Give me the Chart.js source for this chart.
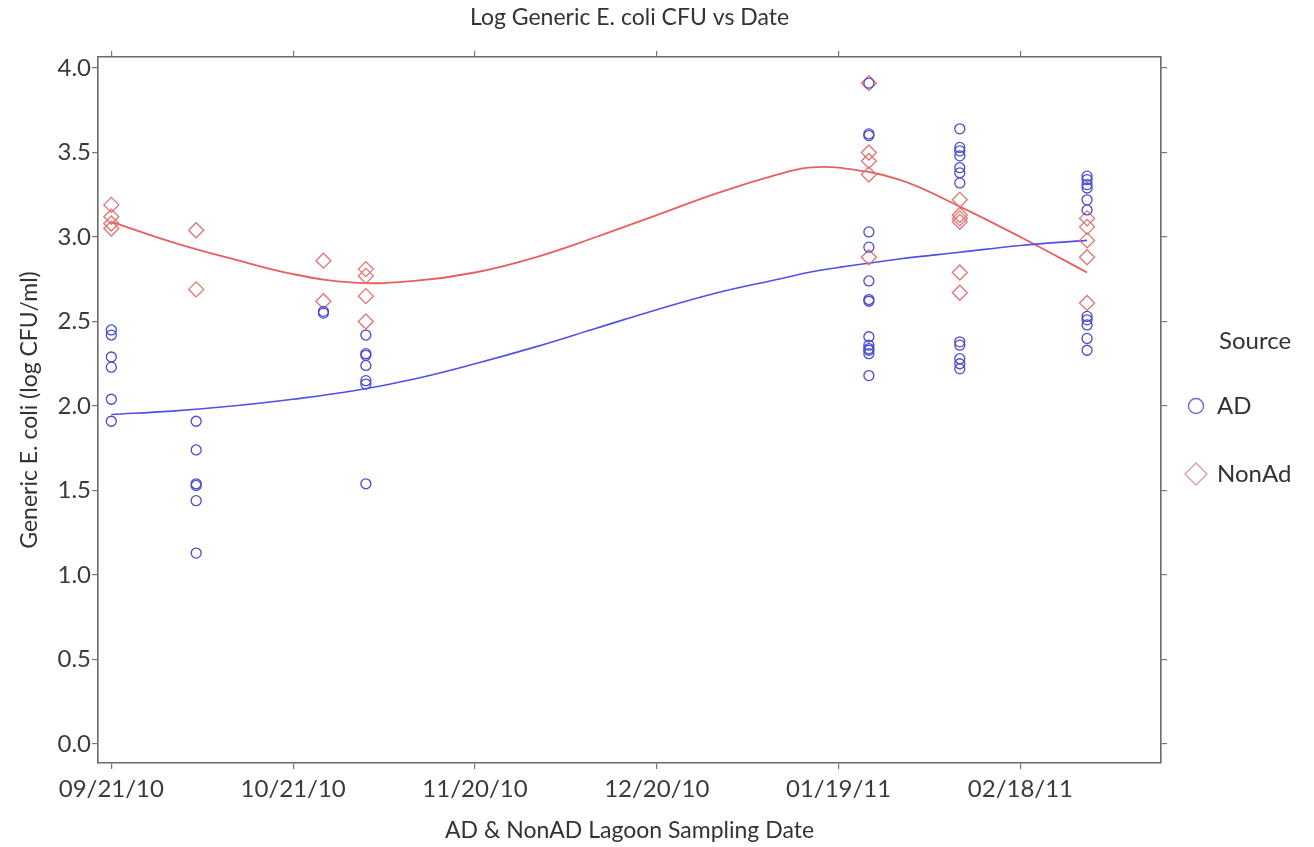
<!DOCTYPE html>
<html>
<head>
<meta charset="utf-8">
<script src="https://cdn.jsdelivr.net/npm/chart.js@4/dist/chart.umd.min.js"></script>
<style>
  body { margin: 0; background: #fff; }
  #wrap { width: 1314px; height: 847px; }
</style>
</head>
<body>
<div id="wrap"><canvas id="grafik" width="1314" height="847"></canvas></div>
<script>
// hari sampling dihitung dari 09/21/10
const hariSampling = [0, 14, 35, 42, 125, 140, 161];
const tanggalSampling = ['09/21/10', '10/05/10', '10/26/10', '11/02/10', '01/24/11', '02/08/11', '03/01/11'];

// nilai log CFU per tanggal sampling
const nilaiAD = [
    [2.45, 2.42, 2.29, 2.23, 2.04, 1.91],
    [1.91, 1.74, 1.54, 1.53, 1.44, 1.13],
    [2.56, 2.55],
    [2.42, 2.31, 2.30, 2.24, 2.15, 2.13, 1.54],
    [3.91, 3.61, 3.60, 3.03, 2.94, 2.74, 2.63, 2.62, 2.41, 2.36, 2.34, 2.33, 2.31, 2.18],
    [3.64, 3.53, 3.51, 3.48, 3.41, 3.38, 3.32, 2.38, 2.36, 2.28, 2.25, 2.22],
    [3.36, 3.34, 3.31, 3.29, 3.22, 3.16, 2.53, 2.51, 2.48, 2.40, 2.33]
];
const nilaiNonAd = [
    [3.19, 3.12, 3.08, 3.05],
    [3.04, 2.69],
    [2.86, 2.62],
    [2.81, 2.77, 2.65, 2.50],
    [3.91, 3.50, 3.45, 3.37, 2.88],
    [3.22, 3.13, 3.11, 3.09, 2.79, 2.67],
    [3.11, 3.06, 2.98, 2.88, 2.61]
];

// garis loess
const hariKurva = [0, 10, 20, 30, 40, 50, 60, 70, 80, 90, 100, 110, 115, 120, 130, 140, 150, 161];
const kurvaAD = [1.95, 1.97, 2.00, 2.04, 2.09, 2.16, 2.25, 2.35, 2.46, 2.57, 2.67, 2.75, 2.79, 2.82, 2.87, 2.91, 2.95, 2.98];
const kurvaNonAd = [3.09, 2.97, 2.87, 2.78, 2.73, 2.74, 2.79, 2.88, 3.00, 3.13, 3.26, 3.37, 3.41, 3.41, 3.34, 3.18, 3.00, 2.79];

// label sumbu
const hariTickX = [0, 30, 60, 90, 120, 150];
const labelTickX = ['09/21/10', '10/21/10', '11/20/10', '12/20/10', '01/19/11', '02/18/11'];
const nilaiTickY = [0, 0.5, 1, 1.5, 2, 2.5, 3, 3.5, 4];

const FONT = 'Lato, "Open Sans", sans-serif';
const BIRU = 'rgb(75, 75, 205)';
const MERAH = 'rgb(226, 115, 115)';

function titikSebar(nilai) {
    const hasil = [];
    nilai.forEach((kolom, i) => {
        kolom.forEach(v => hasil.push({ x: hariSampling[i], y: v }));
    });
    return hasil;
}

function kurva(nilai) {
    return hariKurva.map((h, i) => ({ x: h, y: nilai[i] }));
}

const gridSumbu = {
    drawOnChartArea: false,
    drawTicks: true,
    tickLength: 6,
    color: '#777',
    lineWidth: 1.2
};
const borderSumbu = { display: true, color: '#6b6b6b', width: 1.6 };

// legenda digambar manual di sisi kanan
const legendaSumber = {
    id: 'legendaSumber',
    afterDraw(chart) {
        const ctx = chart.ctx;
        ctx.save();
        ctx.font = '24px ' + FONT;
        ctx.fillStyle = '#333';
        ctx.textBaseline = 'middle';
        ctx.textAlign = 'left';
        ctx.fillText('Source', 1219, 341);

        ctx.lineWidth = 1.4;
        ctx.strokeStyle = 'rgb(110, 110, 200)';
        ctx.beginPath();
        ctx.arc(1196, 406, 7.5, 0, Math.PI * 2);
        ctx.stroke();
        ctx.fillText('AD', 1217, 406);

        ctx.strokeStyle = 'rgb(215, 160, 175)';
        ctx.beginPath();
        ctx.moveTo(1196, 463);
        ctx.lineTo(1207, 474);
        ctx.lineTo(1196, 485);
        ctx.lineTo(1185, 474);
        ctx.closePath();
        ctx.stroke();
        ctx.fillText('NonAd', 1217, 474);
        ctx.restore();
    }
};

new Chart(document.getElementById('grafik'), {
    type: 'scatter',
    data: {
        datasets: [
            {
                label: 'AD',
                data: titikSebar(nilaiAD),
                pointStyle: 'circle',
                pointRadius: 5,
                borderColor: BIRU,
                backgroundColor: 'rgba(0,0,0,0)',
                borderWidth: 1.3
            },
            {
                label: 'NonAd',
                data: titikSebar(nilaiNonAd),
                pointStyle: 'rectRot',
                pointRadius: 7.5,
                borderColor: MERAH,
                backgroundColor: 'rgba(0,0,0,0)',
                borderWidth: 1.3
            },
            {
                type: 'line',
                label: 'AD loess',
                data: kurva(kurvaAD),
                borderColor: 'rgb(80, 80, 230)',
                borderWidth: 1.6,
                pointRadius: 0,
                tension: 0.4,
                fill: false
            },
            {
                type: 'line',
                label: 'NonAd loess',
                data: kurva(kurvaNonAd),
                borderColor: 'rgb(232, 95, 95)',
                borderWidth: 1.8,
                pointRadius: 0,
                tension: 0.4,
                fill: false
            }
        ]
    },
    options: {
        responsive: false,
        animation: false,
        layout: { padding: 0 },
        plugins: {
            legend: { display: false },
            tooltip: { enabled: false }
        },
        scales: {
            x: {
                type: 'linear',
                position: 'bottom',
                min: -2.2,
                max: 173.2,
                afterBuildTicks: s => { s.ticks = hariTickX.map(v => ({ value: v })); },
                afterFit: s => { s.height = 84; },
                grid: gridSumbu,
                border: borderSumbu,
                ticks: {
                    padding: 6,
                    color: '#3a3a3a',
                    font: { family: FONT, size: 24 },
                    maxRotation: 0,
                    callback: v => labelTickX[hariTickX.indexOf(v)] ?? ''
                },
                title: {
                    display: true,
                    text: 'AD & NonAD Lagoon Sampling Date',
                    color: '#333',
                    font: { family: FONT, size: 23 },
                    padding: { top: 0, bottom: 3 }
                }
            },
            x2: {
                type: 'linear',
                axis: 'x',
                position: 'top',
                min: -2.2,
                max: 173.2,
                afterBuildTicks: s => { s.ticks = hariTickX.map(v => ({ value: v })); },
                afterFit: s => { s.height = 57; },
                grid: gridSumbu,
                border: borderSumbu,
                ticks: { display: false },
                title: {
                    display: true,
                    text: 'Log Generic E. coli CFU vs Date',
                    color: '#333',
                    font: { family: FONT, size: 23 },
                    padding: { top: 4, bottom: 0 }
                }
            },
            y: {
                type: 'linear',
                position: 'left',
                min: -0.112,
                max: 4.065,
                afterBuildTicks: s => { s.ticks = nilaiTickY.map(v => ({ value: v })); },
                afterFit: s => { s.width = 98; },
                grid: gridSumbu,
                border: borderSumbu,
                ticks: {
                    padding: 1,
                    color: '#3a3a3a',
                    font: { family: FONT, size: 24 },
                    callback: v => Number(v).toFixed(1)
                },
                title: {
                    display: true,
                    text: 'Generic E. coli (log CFU/ml)',
                    color: '#333',
                    font: { family: FONT, size: 23 },
                    padding: { top: 16, bottom: 0 }
                }
            },
            y2: {
                type: 'linear',
                axis: 'y',
                position: 'right',
                min: -0.112,
                max: 4.065,
                afterBuildTicks: s => { s.ticks = nilaiTickY.map(v => ({ value: v })); },
                afterFit: s => { s.width = 153; },
                grid: gridSumbu,
                border: borderSumbu,
                ticks: { display: false }
            }
        }
    },
    plugins: [legendaSumber]
});
</script>
</body>
</html>
